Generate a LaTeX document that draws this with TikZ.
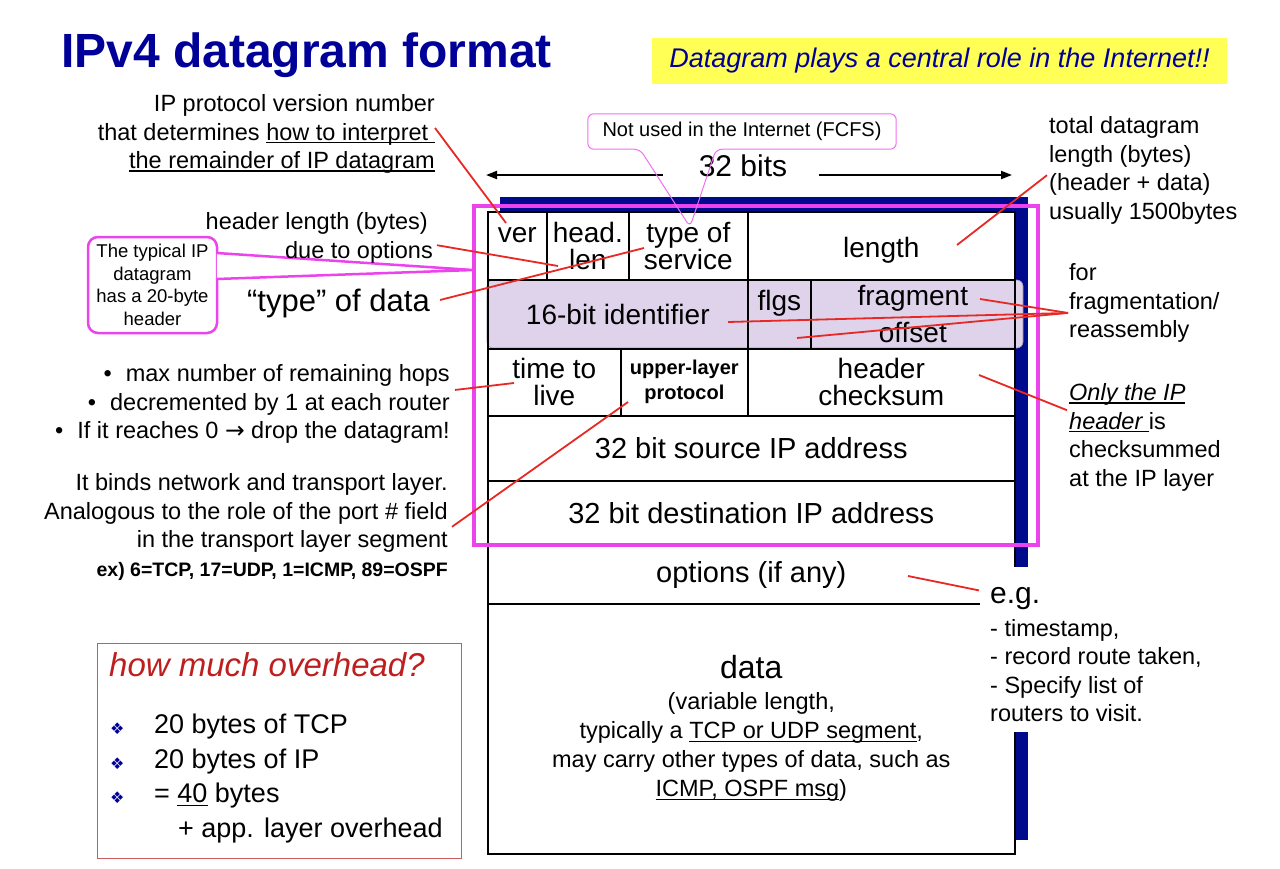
\documentclass[tikz,border=0pt]{standalone}
\usepackage{fontspec}
\setmainfont{Liberation Sans}
\newfontfamily\dejavu{DejaVu Sans}
\usetikzlibrary{arrows.meta}
\definecolor{titleBlue}{RGB}{0, 0, 153}
\definecolor{shadowBlue}{RGB}{0, 10, 140}
\definecolor{slogYellow}{RGB}{255, 255, 85}
\definecolor{frameMagenta}{RGB}{236, 68, 236}
\definecolor{calloutPink}{RGB}{240, 110, 240}
\definecolor{pointerRed}{RGB}{232, 40, 36}
\definecolor{rowPurple}{RGB}{222, 211, 234}
\definecolor{rowEdge}{RGB}{150, 140, 165}
\definecolor{boxRed}{RGB}{205, 90, 90}
\definecolor{askRed}{RGB}{190, 30, 30}

\newcommand{\dbullet}{\makebox[44pt][l]{\raisebox{-1pt}{\textcolor{titleBlue}{\dejavu\fontsize{16}{16}\selectfont ❖}}}}
\newcommand{\uln}[1]{\leavevmode\setbox0=\hbox{#1}\rlap{\rule[-3pt]{\wd0}{1.1pt}}\box0\relax}

\tikzset{
  field/.style={draw, line width=1.6pt, fill=white, inner sep=0pt, anchor=north west,
    align=center, font=\fontsize{28}{27}\selectfont},
  note/.style={inner sep=0pt, font=\fontsize{23.5}{28.5}\selectfont},
  pointer/.style={pointerRed, line width=1.8pt},
  calloutline/.style={calloutPink, line width=1pt, rounded corners=6pt},
}

\begin{document}
\begin{tikzpicture}[x=1pt, y=-1pt]
  \useasboundingbox (0,0) rectangle (1280,868);

  % Title and slogan
  \node[anchor=base west, inner sep=0pt, text=titleBlue, font=\fontsize{48}{48}\selectfont\bfseries] (title) at (61,67) {IPv4 datagram format};
  \node[fill=slogYellow, minimum width=575pt, minimum height=46pt, inner sep=0pt, text=titleBlue, font=\fontsize{27}{27}\selectfont\itshape] (slogan) at (939.5,61) {Datagram plays a central role in the Internet!!};

  % Shadow behind the header
  \fill[shadowBlue] (500,197) rectangle (1028,840);

  % Header fields, one row per 32-bit word
  \node[field, minimum width=59pt, minimum height=68pt] (verCell) at (487,211) {\vphantom{h}ver\\\vphantom{l}};
  \node[field, minimum width=82pt, minimum height=68pt] (hlenCell) at (546,211) {head.\\len};
  \node[field, minimum width=119pt, minimum height=68pt] (tosCell) at (628,211) {type of\\service};
  \node[field, minimum width=267pt, minimum height=68pt] (lenCell) at (747,211) {\vphantom{l}\\[-18pt]length};

  \node[field, minimum width=133pt, minimum height=67pt] (ttlCell) at (487,348) {time to\\live};
  \node[field, minimum width=127pt, minimum height=67pt, font=\fontsize{20}{25}\selectfont\bfseries] (protoCell) at (620,348) {upper-layer\\protocol};
  \node[field, minimum width=267pt, minimum height=67pt] (csumCell) at (747,348) {header\\checksum};

  \node[field, minimum width=527pt, minimum height=65pt, font=\fontsize{29}{27}\selectfont] (srcCell) at (487,415) {32 bit source IP address};
  \node[field, minimum width=527pt, minimum height=65pt, font=\fontsize{29}{27}\selectfont] (dstCell) at (487,480) {32 bit destination IP address};
  \node[field, minimum width=527pt, minimum height=58pt, font=\fontsize{29}{27}\selectfont] (optCell) at (487,545) {options (if any)};
  \node[field, minimum width=527pt, minimum height=250pt, font=\fontsize{23.5}{29}\selectfont] (dataCell) at (487,603)
    {{\fontsize{32}{32}\selectfont data}\\[2pt](variable length,\\typically a \uln{TCP or UDP segment},\\may carry other types of data, such as\\\uln{ICMP, OSPF msg})};

  % Second word on a shaded band
  \draw[rowEdge, fill=rowPurple, line width=0.6pt, rounded corners=6pt] (487,280) rectangle (1023,348);
  \node[field, fill=none, minimum width=260pt, minimum height=69pt] (identCell) at (487,279) {16-bit identifier};
  \node[field, fill=none, minimum width=63pt, minimum height=69pt] (flagCell) at (747,279) {flgs\\\vphantom{l}};
  \node[field, fill=none, minimum width=204pt, minimum height=69pt] (fragCell) at (810,279) {fragment\\[10pt]offset};

  % The 20-byte header frame
  \draw[frameMagenta, line width=4pt] (474,206) rectangle (1038,545);

  % Gap in the box for the e.g. list
  \fill[white] (980,567) rectangle (1234,732);

  % 32 bits ruler
  \node[inner sep=0pt, font=\fontsize{30}{30}\selectfont] (bitsLabel) at (743,166) {32 bits};
  \coordinate (bitsLeft) at (486,175);
  \coordinate (bitsRight) at (1012,175);
  \draw[-{Triangle[length=11pt,width=8pt]}, line width=2pt] ([shift={(-36,9)}]bitsLabel.west) -- (bitsLeft);
  \draw[-{Triangle[length=11pt,width=8pt]}, line width=2pt] ([shift={(32,9)}]bitsLabel.east) -- (bitsRight);

  % Callouts
  \node[minimum width=308pt, minimum height=35pt, inner sep=0pt, font=\fontsize{20}{20}\selectfont] (fcfsNote) at (742,131.5) {Not used in the Internet (FCFS)};
  \coordinate (fcfsTip) at (690,227);
  \draw[calloutline] (fcfsNote.west) -- (fcfsNote.north west) -- (fcfsNote.north east) -- (fcfsNote.south east)
    -- ([xshift=-26pt]fcfsNote.south) -- (fcfsTip) -- ([xshift=-102pt]fcfsNote.south) -- (fcfsNote.south west) -- cycle;

  \node[draw=frameMagenta, line width=2.5pt, rounded corners=10pt, minimum width=129pt, minimum height=96pt, inner sep=0pt,
    align=center, font=\fontsize{18.5}{22.7}\selectfont] (typicalNote) at (152.5,285) {The typical IP\\datagram\\has a 20-byte\\header};
  \coordinate (typicalTip) at (473,270);
  \draw[frameMagenta, line width=2.5pt, fill=white, line join=round] ([shift={(-1.5,-32)}]typicalNote.east) -- (typicalTip) -- ([shift={(-1.5,-6)}]typicalNote.east);

  % Notes on the left
  \node[note, anchor=north east, align=right] (verNote) at (435,94.3) {IP protocol version number\\that determines \uln{how to interpret }\\\uln{the remainder of IP datagram}};
  \node[note, anchor=north east, align=right] (hlenNote) at (433,212.3) {header length (bytes)\hspace*{5pt}\\due to options};
  \node[note, anchor=east, font=\fontsize{31}{31}\selectfont] (typeNote) at (430,303) {“type” of data};
  \node[note, anchor=north east, align=right] (ttlNote) at (450,364.3) {•\hspace{14pt}max number of remaining hops\\•\hspace{14pt}decremented by 1 at each router\\•\hspace{14pt}If it reaches 0 {\dejavu →} drop the datagram!};
  \node[note, anchor=north east, align=right] (protoNote) at (448,473.3) {It binds network and transport layer.\\Analogous to the role of the port \# field\hspace*{14pt}\\in the transport layer segment\\{\bfseries\fontsize{19.5}{24}\selectfont ex) 6=TCP, 17=UDP, 1=ICMP, 89=OSPF}};

  % Notes on the right
  \node[note, anchor=north west, align=left] (lenNote) at (1049,116.3) {total datagram\\length (bytes)\\(header + data)\\usually 1500bytes};
  \node[note, anchor=north west, align=left] (fragNote) at (1069,263.3) {for\\fragmentation/\\reassembly};
  \node[note, anchor=north west, align=left] (csumNote) at (1069,383.3) {\uln{\itshape Only the IP}\\\uln{\itshape header }is\\checksummed\\at the IP layer};
  \node[note, anchor=north west, align=left] (egNote) at (990,587.4) {{\fontsize{30}{30}\selectfont e.g.}\\[4pt]- timestamp,\\- record route taken,\\- Specify list of\\routers to visit.};

  % Red pointers
  \coordinate (verTip) at (506,223);
  \coordinate (hlenTip) at (558,266);
  \coordinate (tosTip) at (644,248);
  \coordinate (lenTip) at (957,245);
  \coordinate (fragTip) at (980,299);
  \coordinate (identTip) at (728,322);
  \coordinate (offsetTip) at (797,338);
  \coordinate (ttlTip) at (514,383);
  \coordinate (protoTip) at (628,402);
  \coordinate (csumTip) at (979,375);
  \coordinate (optTip) at (908,576);
  \draw[pointer] ([shift={(0,-6)}]verNote.east) -- (verTip);
  \draw[pointer] ([shift={(4,7.5)}]hlenNote.east) -- (hlenTip);
  \draw[pointer] ([shift={(10,-3)}]typeNote.east) -- (tosTip);
  \draw[pointer] ([shift={(-2,5)}]lenNote.west) -- (lenTip);
  \foreach \tip in {fragTip, identTip, offsetTip}
    \draw[pointer] ([shift={(-1,10)}]fragNote.west) -- (\tip);
  \draw[pointer] ([shift={(5,-14)}]ttlNote.east) -- (ttlTip);
  \draw[pointer] ([shift={(4,0)}]protoNote.east) -- (protoTip);
  \draw[pointer] ([shift={(-2,-27)}]csumNote.west) -- (csumTip);
  \draw[pointer] ([shift={(-11,3)}]egNote.north west) -- (optTip);

  % Overhead box
  \node[draw=boxRed, line width=1pt, minimum width=364pt, minimum height=215pt, inner sep=0pt] (overheadBox) at (279.5,750.5) {};
  \node[anchor=west, inner sep=0pt, text=askRed, font=\fontsize{33}{33}\selectfont\itshape] (overheadAsk) at (109,665) {how much overhead?};
  \node[anchor=north west, inner sep=0pt, align=left, font=\fontsize{27}{34.5}\selectfont] (overheadList) at (110,714)
    {\dbullet 20 bytes of TCP\\\dbullet 20 bytes of IP\\\dbullet = \uln{40} bytes\\\hspace*{68pt}+ app. layer overhead};
\end{tikzpicture}
\end{document}
